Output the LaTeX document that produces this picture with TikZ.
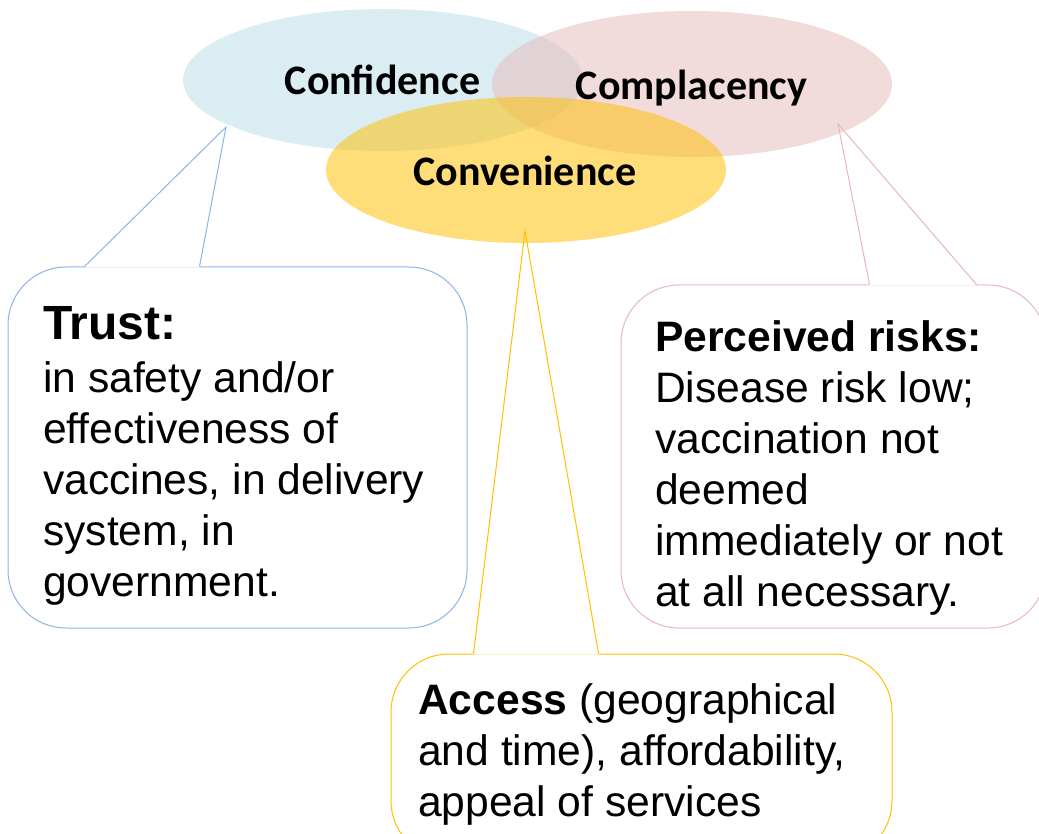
\documentclass[tikz,border=0pt]{standalone}
\usepackage{fontspec}
\setmainfont{Liberation Sans}
\newfontfamily\calibrifont{Carlito}
\usetikzlibrary{shapes.geometric}

\definecolor{confblue}{HTML}{B7DDE8}
\definecolor{complpink}{HTML}{E6B9B8}
\definecolor{convyellow}{HTML}{FFC000}
\definecolor{trustline}{HTML}{8EB4E3}
\definecolor{riskline}{HTML}{E6B9B8}
\definecolor{accessline}{HTML}{FFC000}

\tikzset{
  venn/.style={ellipse, inner sep=0, minimum width=400pt},
  venntext/.style={inner sep=0, anchor=base,
    font=\calibrifont\bfseries\fontsize{42}{50}\selectfont},
  bubble/.style={draw, fill=white, line width=1pt, rounded corners=58pt, inner sep=0},
  tailline/.style={line width=1pt, line join=miter},
  bodytext/.style={inner sep=0, anchor=base west}
}

\begin{document}
\begin{tikzpicture}[x=1pt,y=-1pt]
\useasboundingbox (0,0) rectangle (1039,834);
\clip (0,0) rectangle (1039,834);
\fill[white] (0,0) rectangle (1039,834);

% ---- callout bubbles ----
\node[bubble, draw=trustline, minimum width=459pt, minimum height=361pt] (trustbox) at (237.5,447.5) {};
\node[bubble, draw=riskline, minimum width=425pt, minimum height=343pt] (riskbox) at (833.5,456.5) {};
\node[bubble, draw=accessline, minimum width=501pt, minimum height=205pt] (accessbox) at (641.5,756.5) {};

\coordinate (trusttip) at (226,127);
\coordinate (risktip) at (838,124);
\coordinate (accesstip) at (525,231);

% tails: open the top edge, then draw the two sides
\fill[white] ([xshift=77pt,yshift=-1pt]trustbox.north west) -- (trusttip) -- ([xshift=192pt,yshift=-1pt]trustbox.north west) -- cycle;
\draw[tailline, trustline] ([xshift=77pt]trustbox.north west) -- (trusttip) -- ([xshift=192pt]trustbox.north west);

\fill[white] ([xshift=249pt,yshift=-1pt]riskbox.north west) -- (risktip) -- ([xshift=356pt,yshift=-1pt]riskbox.north west) -- cycle;
\draw[tailline, riskline] ([xshift=249pt]riskbox.north west) -- (risktip) -- ([xshift=356pt]riskbox.north west);

\fill[white] ([xshift=83pt,yshift=-1pt]accessbox.north west) -- (accesstip) -- ([xshift=208pt,yshift=-1pt]accessbox.north west) -- cycle;
\draw[tailline, accessline] ([xshift=83pt]accessbox.north west) -- (accesstip) -- ([xshift=208pt]accessbox.north west);

% ---- overlapping ellipses ----
\node[venn, fill=confblue, fill opacity=0.5, minimum height=142pt] (confidence) at (383,80) {};
\node[venn, fill=complpink, fill opacity=0.5, minimum height=146pt] (complacency) at (692,84) {};
\node[venn, fill=convyellow, fill opacity=0.52, minimum height=146pt] (convenience) at (526,170) {};

\node[venntext] (conflabel) at (382.5,95) {Confidence};
\node[venntext] (compllabel) at (691.5,100) {Complacency};
\node[venntext] (convlabel) at (525,186) {Convenience};

% ---- callout texts ----
\node[bodytext] (trusttext) at (43,340) {\parbox[t]{430pt}{\raggedright
  \fontsize{48}{51}\selectfont\bfseries Trust:\\[1.7pt]
  \fontsize{42.6}{51}\selectfont\mdseries in safety and/or\\
  effectiveness of\\
  vaccines, in delivery\\
  system, in\\
  government.}};

\node[bodytext] (risktext) at (655,352) {\parbox[t]{390pt}{\raggedright
  \fontsize{42.6}{51}\selectfont\textbf{Perceived risks:}\\
  Disease risk low;\\
  vaccination not\\
  deemed\\
  immediately or not\\
  at all necessary.}};

\node[bodytext] (accesstext) at (418,714) {\parbox[t]{470pt}{\raggedright
  \fontsize{42.6}{51}\selectfont\textbf{Access} (geographical\\
  and time), affordability,\\
  appeal of services}};
\end{tikzpicture}
\end{document}
